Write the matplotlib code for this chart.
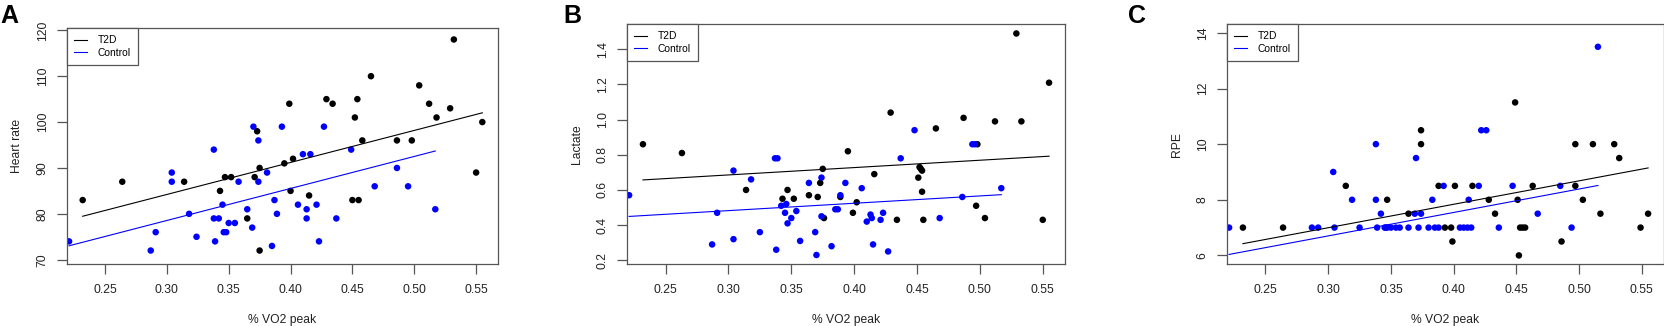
import numpy as np
import matplotlib
matplotlib.use("Agg")
import matplotlib.pyplot as plt

plt.rcParams["font.family"] = ["Liberation Sans", "DejaVu Sans"]

# panel A - heart rate
a_t2d_x = [0.232, 0.264, 0.314, 0.343, 0.347, 0.352, 0.365, 0.371, 0.373, 0.375, 0.375,
           0.395, 0.399, 0.400, 0.402, 0.415, 0.429, 0.434, 0.450, 0.452, 0.454, 0.455,
           0.458, 0.465, 0.486, 0.498, 0.504, 0.512, 0.518, 0.529, 0.532, 0.550, 0.555]
a_t2d_y = [83, 87, 87, 85, 88, 88, 79, 88, 98, 90, 72,
           91, 104, 85, 92, 84, 105, 104, 83, 101, 105, 83,
           96, 110, 96, 96, 108, 104, 101, 103, 118, 89, 100]
a_ctl_x = [0.221, 0.287, 0.291, 0.304, 0.304, 0.318, 0.324, 0.338, 0.338, 0.339, 0.342,
           0.345, 0.346, 0.348, 0.350, 0.355, 0.358, 0.365, 0.369, 0.370, 0.374, 0.374,
           0.381, 0.385, 0.387, 0.389, 0.393, 0.406, 0.410, 0.416, 0.413, 0.413, 0.421,
           0.423, 0.427, 0.437, 0.449, 0.468, 0.486, 0.495, 0.517]
a_ctl_y = [74, 72, 76, 89, 87, 80, 75, 94, 79, 74, 79,
           82, 76, 76, 78, 78, 87, 81, 77, 99, 96, 87,
           89, 73, 83, 80, 99, 82, 93, 93, 81, 79, 82,
           74, 99, 79, 94, 86, 90, 86, 81]
# model fit: common slope, group intercepts
a_slope = 69.8
a_t2d_icpt = 63.28
a_ctl_icpt = 57.61

# panel B - lactate
b_t2d_x = [0.232, 0.263, 0.314, 0.343, 0.347, 0.352, 0.364, 0.371, 0.373, 0.375, 0.376,
           0.389, 0.395, 0.399, 0.402, 0.416, 0.429, 0.434, 0.451, 0.452, 0.453, 0.454,
           0.454, 0.455, 0.465, 0.487, 0.497, 0.498, 0.504, 0.512, 0.529, 0.533, 0.550, 0.555]
b_t2d_y = [0.86, 0.81, 0.60, 0.55, 0.60, 0.55, 0.57, 0.56, 0.64, 0.72, 0.44,
           0.56, 0.82, 0.47, 0.53, 0.69, 1.04, 0.43, 0.67, 0.73, 0.72, 0.71,
           0.59, 0.43, 0.95, 1.01, 0.51, 0.86, 0.44, 0.99, 1.49, 0.99, 0.43, 1.21]
b_ctl_x = [0.221, 0.287, 0.291, 0.304, 0.304, 0.318, 0.325, 0.337, 0.338, 0.339, 0.342,
           0.345, 0.346, 0.347, 0.350, 0.354, 0.357, 0.364, 0.369, 0.370, 0.374, 0.374,
           0.382, 0.385, 0.387, 0.389, 0.393, 0.406, 0.410, 0.413, 0.414, 0.415, 0.421,
           0.423, 0.427, 0.437, 0.448, 0.468, 0.486, 0.494, 0.496, 0.517]
b_ctl_y = [0.57, 0.29, 0.47, 0.71, 0.32, 0.66, 0.36, 0.78, 0.26, 0.78, 0.51,
           0.47, 0.52, 0.41, 0.44, 0.48, 0.31, 0.64, 0.36, 0.23, 0.67, 0.45,
           0.28, 0.49, 0.49, 0.57, 0.64, 0.61, 0.42, 0.46, 0.44, 0.29, 0.43,
           0.47, 0.25, 0.78, 0.94, 0.44, 0.56, 0.86, 0.86, 0.61]
b_slope = 0.418
b_t2d_icpt = 0.560
b_ctl_icpt = 0.357

# panel C - RPE
c_t2d_x = [0.232, 0.264, 0.314, 0.347, 0.364, 0.374, 0.374, 0.388, 0.393, 0.398, 0.399,
           0.401, 0.415, 0.428, 0.433, 0.449, 0.451, 0.452, 0.453, 0.455, 0.457, 0.463,
           0.486, 0.497, 0.497, 0.503, 0.511, 0.517, 0.528, 0.532, 0.549, 0.555]
c_t2d_y = [7, 7, 8.5, 8, 7.5, 10.5, 10, 8.5, 7, 7, 6.5,
           8.5, 8.5, 8, 7.5, 11.5, 8, 6, 7, 7, 7, 8.5,
           6.5, 10, 8.5, 8, 10, 7.5, 10, 9.5, 7, 7.5]
c_ctl_x = [0.221, 0.287, 0.292, 0.304, 0.305, 0.319, 0.325, 0.338, 0.338, 0.339, 0.342,
           0.345, 0.346, 0.347, 0.350, 0.354, 0.357, 0.364, 0.369, 0.370, 0.372, 0.374,
           0.380, 0.383, 0.385, 0.388, 0.392, 0.405, 0.408, 0.411, 0.412, 0.414, 0.420,
           0.422, 0.426, 0.436, 0.447, 0.467, 0.485, 0.494, 0.515]
c_ctl_y = [7, 7, 7, 9, 7, 8, 7, 10, 8, 7, 7.5,
           7, 7, 7, 7, 7, 7, 7, 7.5, 9.5, 7, 7.5,
           7, 8, 7, 7, 8.5, 7, 7, 7, 8, 7, 8.5,
           10.5, 10.5, 7, 8.5, 7.5, 8.5, 7, 13.5]
c_slope = 8.43
c_t2d_icpt = 4.466
c_ctl_icpt = 4.172

x_ticks = [0.25, 0.30, 0.35, 0.40, 0.45, 0.50, 0.55]
x_tick_labels = ["0.25", "0.30", "0.35", "0.40", "0.45", "0.50", "0.55"]
a_ticks = [70, 80, 90, 100, 110, 120]
a_tick_labels = ["70", "80", "90", "100", "110", "120"]
b_ticks = [0.2, 0.4, 0.6, 0.8, 1.0, 1.2, 1.4]
b_tick_labels = ["0.2", "0.4", "0.6", "0.8", "1.0", "1.2", "1.4"]
c_ticks = [6, 8, 10, 12, 14]
c_tick_labels = ["6", "8", "10", "12", "14"]

W, H = 1665, 326
GRAY = "#555555"
BLUE = "#0000ff"


def rect(l, r, t, b):
    return [l / W, 1 - b / H, (r - l) / W, (b - t) / H]


def panel(fig, box, letter, letter_x, tx, ty, cx, cy, slope, icpts,
          yticks, ylabels, ylim, ylabel):
    ax = fig.add_axes(rect(*box))
    ax.scatter(tx, ty, s=22, color="black", edgecolors="none", zorder=2)
    ax.scatter(cx, cy, s=22, color=BLUE, edgecolors="none", zorder=2)

    # fitted line over each group's own x range
    for xs, icpt, col, lab in [(tx, icpts[0], "black", "T2D"),
                               (cx, icpts[1], BLUE, "Control")]:
        xr = np.array([min(xs), max(xs)])
        ax.plot(xr, icpt + slope * xr, color=col, linewidth=0.8, label=lab, zorder=3)

    # R style limits: 4% padding around the T2D range
    span = max(tx) - min(tx)
    ax.set_xlim(min(tx) - 0.04 * span, max(tx) + 0.04 * span)
    ax.set_ylim(*ylim)

    ax.set_xticks(x_ticks)
    ax.set_xticklabels(x_tick_labels)
    ax.set_yticks(yticks)
    ax.set_yticklabels(ylabels, rotation=90, va="center")
    ax.tick_params(length=7, width=0.9, color=GRAY, labelsize=8.7,
                   labelcolor="#222222")
    ax.tick_params(axis="x", pad=7)
    ax.tick_params(axis="y", pad=6)
    for sp in ax.spines.values():
        sp.set_color(GRAY)
        sp.set_linewidth(0.9)

    ax.set_xlabel("% VO2 peak", fontsize=8.7, color="#222222", labelpad=13)
    ax.set_ylabel(ylabel, fontsize=8.7, color="#222222", labelpad=10)

    leg = ax.legend(loc="upper left", borderaxespad=0, fancybox=False,
                    fontsize=7.4, handlelength=1.3, handletextpad=1.0,
                    borderpad=0.7, labelspacing=0.25, framealpha=1)
    leg.get_frame().set_edgecolor(GRAY)
    leg.get_frame().set_linewidth(0.9)

    fig.text(letter_x / W, 1 - 4 / H, letter, fontsize=18, fontweight="bold",
             ha="left", va="top")
    return ax


fig = plt.figure(figsize=(W / 100, H / 100), dpi=100)

panel(fig, (66.7, 498.3, 28.3, 264.3), "A", 0, a_t2d_x, a_t2d_y, a_ctl_x, a_ctl_y,
      a_slope, (a_t2d_icpt, a_ctl_icpt),
      a_ticks, a_tick_labels, (69.0, 120.44), "Heart rate")
panel(fig, (626.7, 1065.3, 24, 264.3), "B", 563, b_t2d_x, b_t2d_y, b_ctl_x, b_ctl_y,
      b_slope, (b_t2d_icpt, b_ctl_icpt),
      b_ticks, b_tick_labels, (0.177, 1.544), "Lactate")
panel(fig, (1226.7, 1664.3, 24, 264.3), "C", 1128, c_t2d_x, c_t2d_y, c_ctl_x, c_ctl_y,
      c_slope, (c_t2d_icpt, c_ctl_icpt),
      c_ticks, c_tick_labels, (5.68, 14.32), "RPE")

fig.savefig("out.png", dpi=100)
